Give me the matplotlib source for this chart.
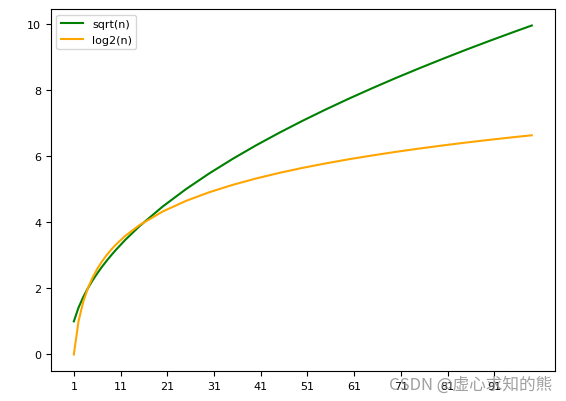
import matplotlib
matplotlib.use("Agg")
import matplotlib.pyplot as plt

n = [1, 2, 3, 4, 5, 6, 7, 8, 9, 10, 12, 15, 20, 25, 30, 35, 40, 45, 50, 55,
     60, 65, 70, 75, 80, 85, 90, 95, 99]
sqrt_vals = [1, 1.414, 1.732, 2, 2.236, 2.449, 2.646, 2.828, 3, 3.162, 3.464,
             3.873, 4.472, 5, 5.477, 5.916, 6.325, 6.708, 7.071, 7.416, 7.746,
             8.062, 8.367, 8.660, 8.944, 9.220, 9.487, 9.747, 9.950]
log2_vals = [0, 1, 1.585, 2, 2.322, 2.585, 2.807, 3, 3.170, 3.322, 3.585,
             3.907, 4.322, 4.644, 4.907, 5.129, 5.322, 5.492, 5.644, 5.781,
             5.907, 6.022, 6.129, 6.229, 6.322, 6.410, 6.492, 6.570, 6.629]
xticks = [1, 11, 21, 31, 41, 51, 61, 71, 81, 91]

fig, ax = plt.subplots(figsize=(5.66, 4.02), dpi=100)
fig.subplots_adjust(left=0.09, right=0.98, bottom=0.075, top=0.975)
ax.plot(n, sqrt_vals, color='green', label='sqrt(n)')
ax.plot(n, log2_vals, color='orange', label='log2(n)')
ax.set_xticks(xticks)
ax.tick_params(labelsize=8)
ax.legend(loc='upper left', fontsize=8)

fig.text(0.975, 0.02, 'CSDN @虚心求知的熊', ha='right', va='bottom', fontsize=12,
         color='#888888', alpha=0.8, family=['Noto Sans CJK SC', 'DejaVu Sans'])

fig.savefig('out.png')
